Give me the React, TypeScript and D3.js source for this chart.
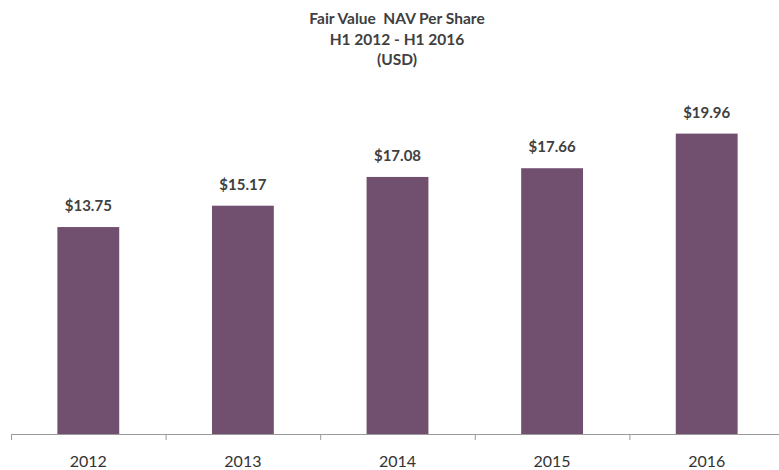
import React from "react";
import * as d3 from "d3";

const categories = ["2012", "2013", "2014", "2015", "2016"];
const values = [13.75, 15.17, 17.08, 17.66, 19.96];
const valueLabels = ["$13.75", "$15.17", "$17.08", "$17.66", "$19.96"];
const titleLines = ["Fair Value  NAV Per Share", "H1 2012 - H1 2016", "(USD)"];

const W = 779;
const H = 470;
const FONT = "Lato, 'Open Sans', sans-serif";

export default function App() {
  const x = d3.scaleBand<string>().domain(categories).range([11, 784]).paddingInner(0.6).paddingOuter(0.3);
  const y = d3.scaleLinear().domain([0, 20]).range([434, 133]);
  const bands = d3.scaleBand<string>().domain(categories).range([11, 784]);
  const tickXs = categories.map((c) => bands(c) as number).concat([784]);

  return (
    <svg width={W} height={H} style={{ position: "absolute", left: 0, top: 0, background: "#fff" }}>
      {titleLines.map((t, i) => (
        <text key={i} x={397} y={24 + i * 20.5} textAnchor="middle" fontFamily={FONT} fontWeight="bold" fontSize={15.5} fill="#404040" style={{ whiteSpace: "pre" }}>
          {t}
        </text>
      ))}
      {categories.map((c, i) => (
        <g key={c}>
          <rect x={x(c)} y={y(values[i])} width={x.bandwidth()} height={y(0) - y(values[i])} fill="#714F6E" />
          <text x={(x(c) as number) + x.bandwidth() / 2} y={y(values[i]) - 16} textAnchor="middle" fontFamily={FONT} fontWeight="bold" fontSize={15} fill="#404040">
            {valueLabels[i]}
          </text>
          <text x={(bands(c) as number) + bands.bandwidth() / 2} y={467} textAnchor="middle" fontFamily={FONT} fontSize={16} fill="#333">
            {c}
          </text>
        </g>
      ))}
      <line x1={11} x2={784} y1={434.5} y2={434.5} stroke="#9a9a9a" strokeWidth={1} />
      {tickXs.map((t, i) => (
        <line key={i} x1={t + 0.5} x2={t + 0.5} y1={434} y2={440} stroke="#9a9a9a" strokeWidth={1} />
      ))}
    </svg>
  );
}
